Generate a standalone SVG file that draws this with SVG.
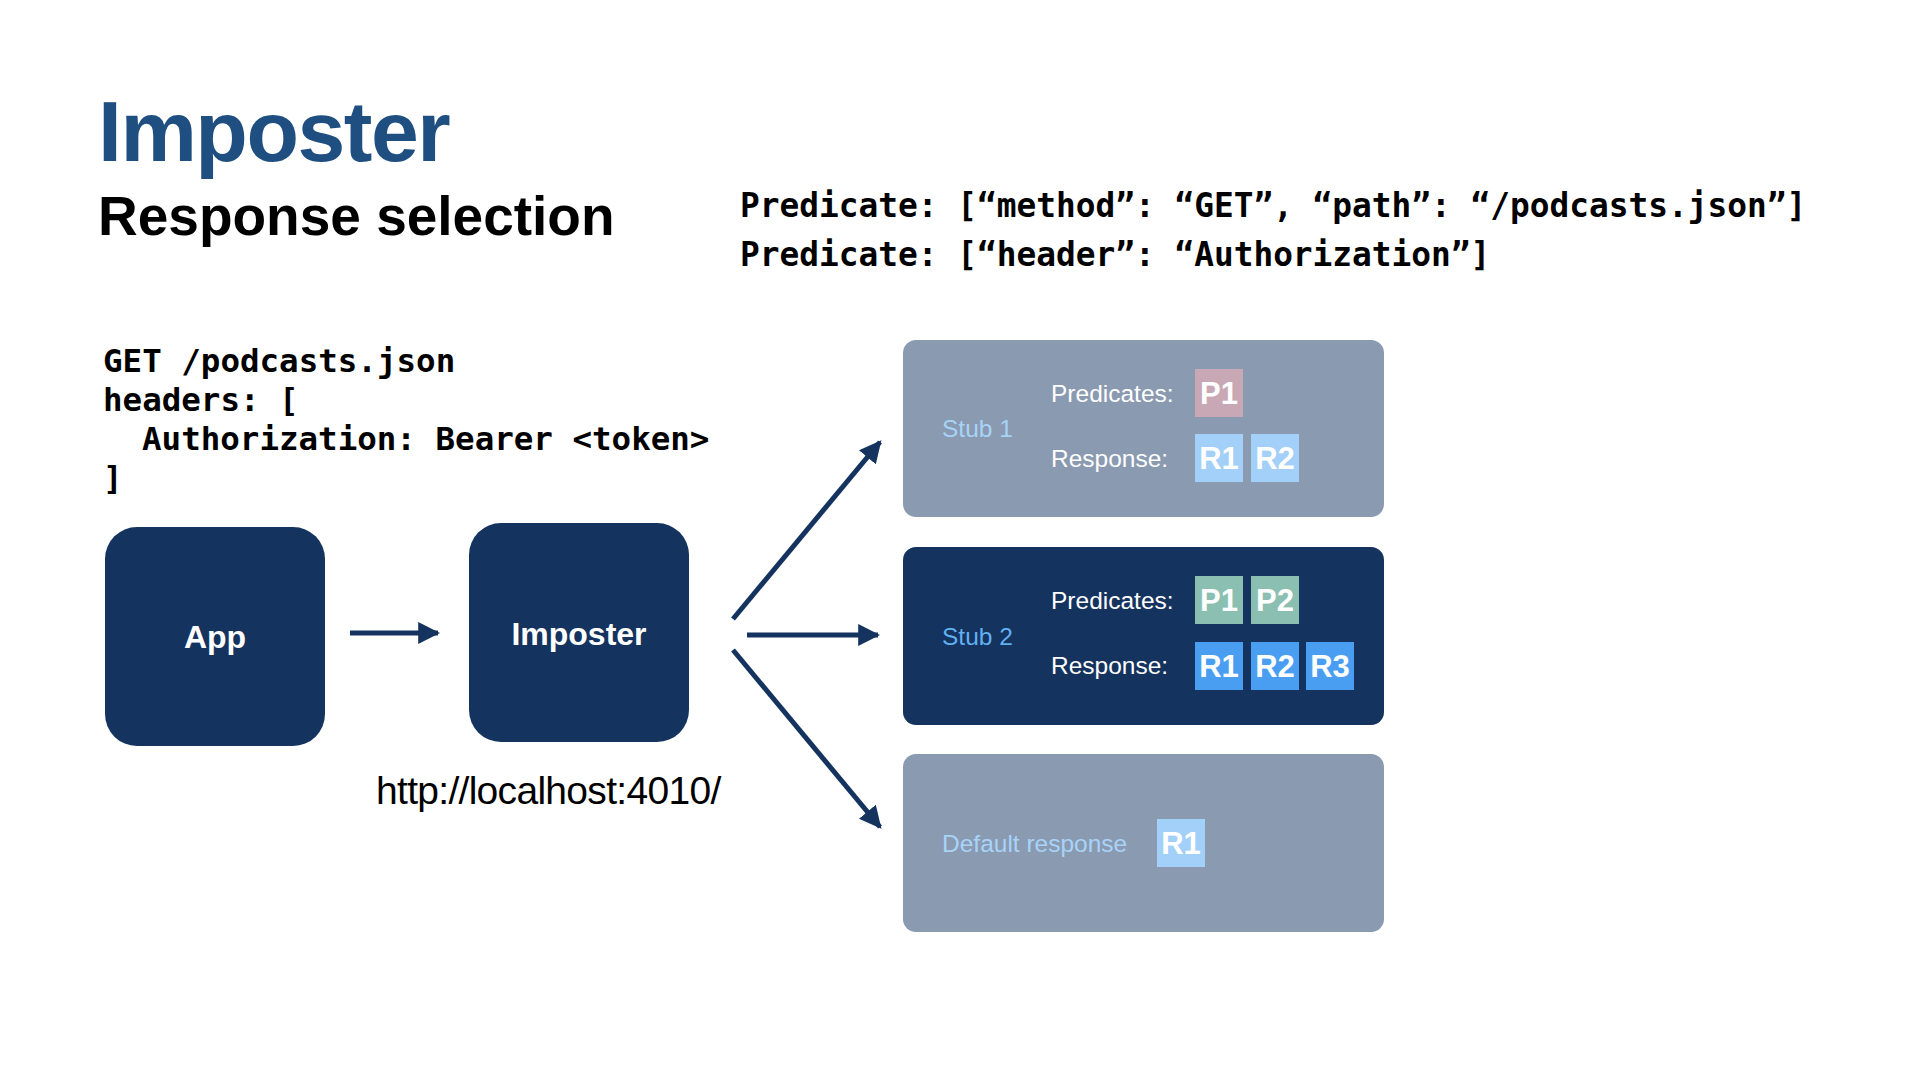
<svg xmlns="http://www.w3.org/2000/svg" width="1920" height="1080" viewBox="0 0 1920 1080">
  <defs>
    <marker id="arrow" viewBox="0 0 10 10" refX="9" refY="5" markerWidth="4.4" markerHeight="4.4" markerUnits="strokeWidth" orient="auto">
      <path d="M0,0 L10,5 L0,10 Z" fill="#14335E"/>
    </marker>
    <style>
      .title { font-family: "Liberation Sans", Arial, sans-serif; font-weight: bold; }
      .mono { font-family: "DejaVu Sans Mono", "Liberation Mono", monospace; font-weight: bold; font-size: 32.5px; fill: #000; }
      .mono-wide { font-size: 32.8px; }
      .box { fill: #14335E; }
      .boxlabel { font-family: "Liberation Sans", Arial, sans-serif; font-weight: bold; font-size: 32px; fill: #fff; text-anchor: middle; }
      .stub-muted { fill: #8A9AB0; }
      .stub-active { fill: #14335E; }
      .lbl { font-family: "Liberation Sans", Arial, sans-serif; font-size: 24.5px; fill: #fff; }
      .name-muted { font-family: "Liberation Sans", Arial, sans-serif; font-size: 24.5px; fill: #A8D3F8; }
      .name-active { font-family: "Liberation Sans", Arial, sans-serif; font-size: 24.5px; fill: #62B0F2; }
      .chip-text { font-family: "Liberation Sans", Arial, sans-serif; font-weight: bold; font-size: 31px; fill: #fff; text-anchor: middle; }
      .p-pink { fill: #C9A8B5; }
      .p-green { fill: #8BBFB2; }
      .r-light { fill: #A3D0F8; }
      .r-bright { fill: #4A9EF2; }
      .conn { stroke: #14335E; stroke-width: 5; fill: none; marker-end: url(#arrow); }
    </style>
  </defs>

  <rect width="1920" height="1080" fill="#fff"/>

  <!-- heading -->
  <text class="title" x="98" y="161" font-size="86" fill="#1F4E80" letter-spacing="-1.5">Imposter</text>
  <text class="title" x="98" y="235" font-size="55" fill="#000">Response selection</text>

  <!-- predicate definitions -->
  <text class="mono mono-wide" x="740" y="217">Predicate: [“method”: “GET”, “path”: “/podcasts.json”]</text>
  <text class="mono mono-wide" x="740" y="266">Predicate: [“header”: “Authorization”]</text>

  <!-- incoming request -->
  <g id="request">
    <text class="mono" x="103" y="372">GET /podcasts.json</text>
    <text class="mono" x="103" y="411">headers: [</text>
    <text class="mono" x="142" y="450">Authorization: Bearer &lt;token&gt;</text>
    <text class="mono" x="103" y="489">]</text>
  </g>

  <!-- client app -->
  <g id="app">
    <rect class="box" x="105" y="527" width="220" height="219" rx="32"/>
    <text class="boxlabel" x="215" y="648">App</text>
  </g>

  <!-- imposter server -->
  <g id="imposter">
    <rect class="box" x="469" y="523" width="220" height="219" rx="32"/>
    <text class="boxlabel" x="579" y="645">Imposter</text>
    <text x="376" y="804" font-family="'Liberation Sans', Arial, sans-serif" font-size="39" letter-spacing="-0.7" fill="#000">http://localhost:4010/</text>
  </g>

  <!-- stub 1 -->
  <g id="stub1">
    <rect class="stub-muted" x="903" y="340" width="481" height="177" rx="13"/>
    <text class="name-muted" x="942" y="437">Stub 1</text>
    <text class="lbl" x="1051" y="402">Predicates:</text>
    <text class="lbl" x="1051" y="467">Response:</text>
    <rect class="p-pink" x="1195" y="369" width="48" height="48"/>
    <text class="chip-text" x="1219" y="404">P1</text>
    <rect class="r-light" x="1195" y="434" width="48" height="48"/>
    <text class="chip-text" x="1219" y="469">R1</text>
    <rect class="r-light" x="1251" y="434" width="48" height="48"/>
    <text class="chip-text" x="1275" y="469">R2</text>
  </g>

  <!-- stub 2 -->
  <g id="stub2">
    <rect class="stub-active" x="903" y="547" width="481" height="178" rx="13"/>
    <text class="name-active" x="942" y="645">Stub 2</text>
    <text class="lbl" x="1051" y="609">Predicates:</text>
    <text class="lbl" x="1051" y="674">Response:</text>
    <rect class="p-green" x="1195" y="576" width="48" height="48"/>
    <text class="chip-text" x="1219" y="611">P1</text>
    <rect class="p-green" x="1251" y="576" width="48" height="48"/>
    <text class="chip-text" x="1275" y="611">P2</text>
    <rect class="r-bright" x="1195" y="642" width="48" height="48"/>
    <text class="chip-text" x="1219" y="677">R1</text>
    <rect class="r-bright" x="1251" y="642" width="48" height="48"/>
    <text class="chip-text" x="1275" y="677">R2</text>
    <rect class="r-bright" x="1306" y="642" width="48" height="48"/>
    <text class="chip-text" x="1330" y="677">R3</text>
  </g>

  <!-- default response -->
  <g id="default">
    <rect class="stub-muted" x="903" y="754" width="481" height="178" rx="13"/>
    <text class="name-muted" x="942" y="852">Default response</text>
    <rect class="r-light" x="1157" y="819" width="48" height="48"/>
    <text class="chip-text" x="1181" y="854">R1</text>
  </g>

  <!-- connectors -->
  <g id="connectors">
    <line class="conn" x1="350" y1="633" x2="438" y2="633"/>
    <line class="conn" x1="733" y1="619" x2="880" y2="442"/>
    <line class="conn" x1="747" y1="635" x2="878" y2="635"/>
    <line class="conn" x1="733" y1="650" x2="880" y2="827"/>
  </g>
</svg>
